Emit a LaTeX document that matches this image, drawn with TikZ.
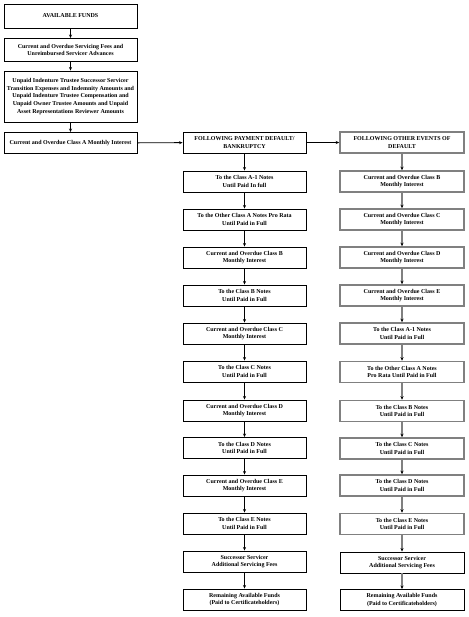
\documentclass[tikz,border=0pt]{standalone}
\usepackage{fontspec}
\setmainfont{Liberation Serif}
\usetikzlibrary{arrows.meta}
\begin{document}
\begin{tikzpicture}[x=1pt,y=-1pt,
 box/.style={draw=black,line width=0.9pt,fill=white,align=center,font=\bfseries\fontsize{6}{7.2}\selectfont,inner sep=0pt},
 lbox/.style={box,minimum width=133pt},
 mbox/.style={box,minimum width=123pt,minimum height=21pt},
 rbox/.style={box,draw=black!50,line width=1.5pt,minimum width=124pt,minimum height=21pt},
 rboxk/.style={box,minimum width=124pt,minimum height=21pt},
 arr/.style={-{Stealth[length=3.5pt,width=3pt]},line width=0.9pt},
 garr/.style={-{Stealth[length=3.5pt,width=3pt,black]},line width=1.5pt,draw=black!50}]
\useasboundingbox (0,0) rectangle (468,617);
% left column
\node[lbox,minimum height=24pt] (a1) at (70.5,16) {AVAILABLE FUNDS};
\node[lbox,minimum height=23pt] (a2) at (70.5,50) {Current and Overdue Servicing Fees and\\Unreimbursed Servicer Advances};
\node[lbox,minimum height=51pt,font=\bfseries\fontsize{6}{7.6}\selectfont] (a3) at (70.5,96.5) {Unpaid Indenture Trustee Successor Servicer\\Transition Expenses and Indemnity Amounts and\\Unpaid Indenture Trustee Compensation and\\Unpaid Owner Trustee Amounts and Unpaid\\Asset Representations Reviewer Amounts};
\node[lbox,minimum height=21pt] (a4) at (70.5,143) {Current and Overdue Class A Monthly Interest};
% middle column
\node[mbox] (mh) at (244.5,142.5) {FOLLOWING PAYMENT DEFAULT/\\BANKRUPTCY};
\node[mbox] (m1) at (244.5,181.5) {To the Class A-1 Notes\\Until Paid In full};
\node[mbox] (m2) at (244.5,219.5) {To the Other Class A Notes Pro Rata\\Until Paid in Full};
\node[mbox] (m3) at (244.5,257.5) {Current and Overdue Class B\\Monthly Interest};
\node[mbox] (m4) at (244.5,295.5) {To the Class B Notes\\Until Paid in Full};
\node[mbox] (m5) at (244.5,333.5) {Current and Overdue Class C\\Monthly Interest};
\node[mbox] (m6) at (244.5,371.5) {To the Class C Notes\\Until Paid in Full};
\node[mbox] (m7) at (244.5,410.5) {Current and Overdue Class D\\Monthly Interest};
\node[mbox] (m8) at (244.5,448) {To the Class D Notes\\Until Paid in Full};
\node[mbox] (m9) at (244.5,485.5) {Current and Overdue Class E\\Monthly Interest};
\node[mbox] (m10) at (244.5,523.5) {To the Class E Notes\\Until Paid in Full};
\node[mbox] (m11) at (244.5,561.5) {Successor Servicer\\Additional Servicing Fees};
\node[mbox] (m12) at (244.5,599.5) {Remaining Available Funds\\(Paid to Certificateholders)};
% right column
\node[rbox] (rh) at (402,142.5) {FOLLOWING OTHER EVENTS OF\\DEFAULT};
\node[rbox] (r1) at (402,181.5) {Current and Overdue Class B\\Monthly Interest};
\node[rbox] (r2) at (402,219.5) {Current and Overdue Class C\\Monthly Interest};
\node[rbox] (r3) at (402,257.5) {Current and Overdue Class D\\Monthly Interest};
\node[rbox] (r4) at (402,295.5) {Current and Overdue Class E\\Monthly Interest};
\node[rbox] (r5) at (402,333.5) {To the Class A-1 Notes\\Until Paid in Full};
\node[rbox] (r6) at (402,372) {To the Other Class A Notes\\Pro Rata Until Paid in Full};
\node[rbox] (r7) at (402,411) {To the Class B Notes\\Until Paid in Full};
\node[rbox] (r8) at (402,448.5) {To the Class C Notes\\Until Paid in Full};
\node[rbox] (r9) at (402,485.5) {To the Class D Notes\\Until Paid in Full};
\node[rbox] (r10) at (402,524) {To the Class E Notes\\Until Paid in Full};
\node[rboxk] (r11) at (402,562.5) {Successor Servicer\\Additional Servicing Fees};
\node[rboxk] (r12) at (402,600) {Remaining Available Funds\\(Paid to Certificateholders)};
% connectors
\draw[arr] (a1) -- (a2);
\draw[arr] (a2) -- (a3);
\draw[arr] (a3) -- (a4);
\draw[arr] (a4) -- (mh);
\draw[arr] (mh) -- (rh);
\draw[arr] (mh) -- (m1);
\foreach \i/\j in {1/2,2/3,3/4,4/5,5/6,6/7,7/8,8/9,9/10,10/11,11/12}{
  \draw[arr] (m\i) -- (m\j);
  \draw[garr] (r\i) -- (r\j);
}
\draw[garr] (rh) -- (r1);
\end{tikzpicture}
\end{document}
